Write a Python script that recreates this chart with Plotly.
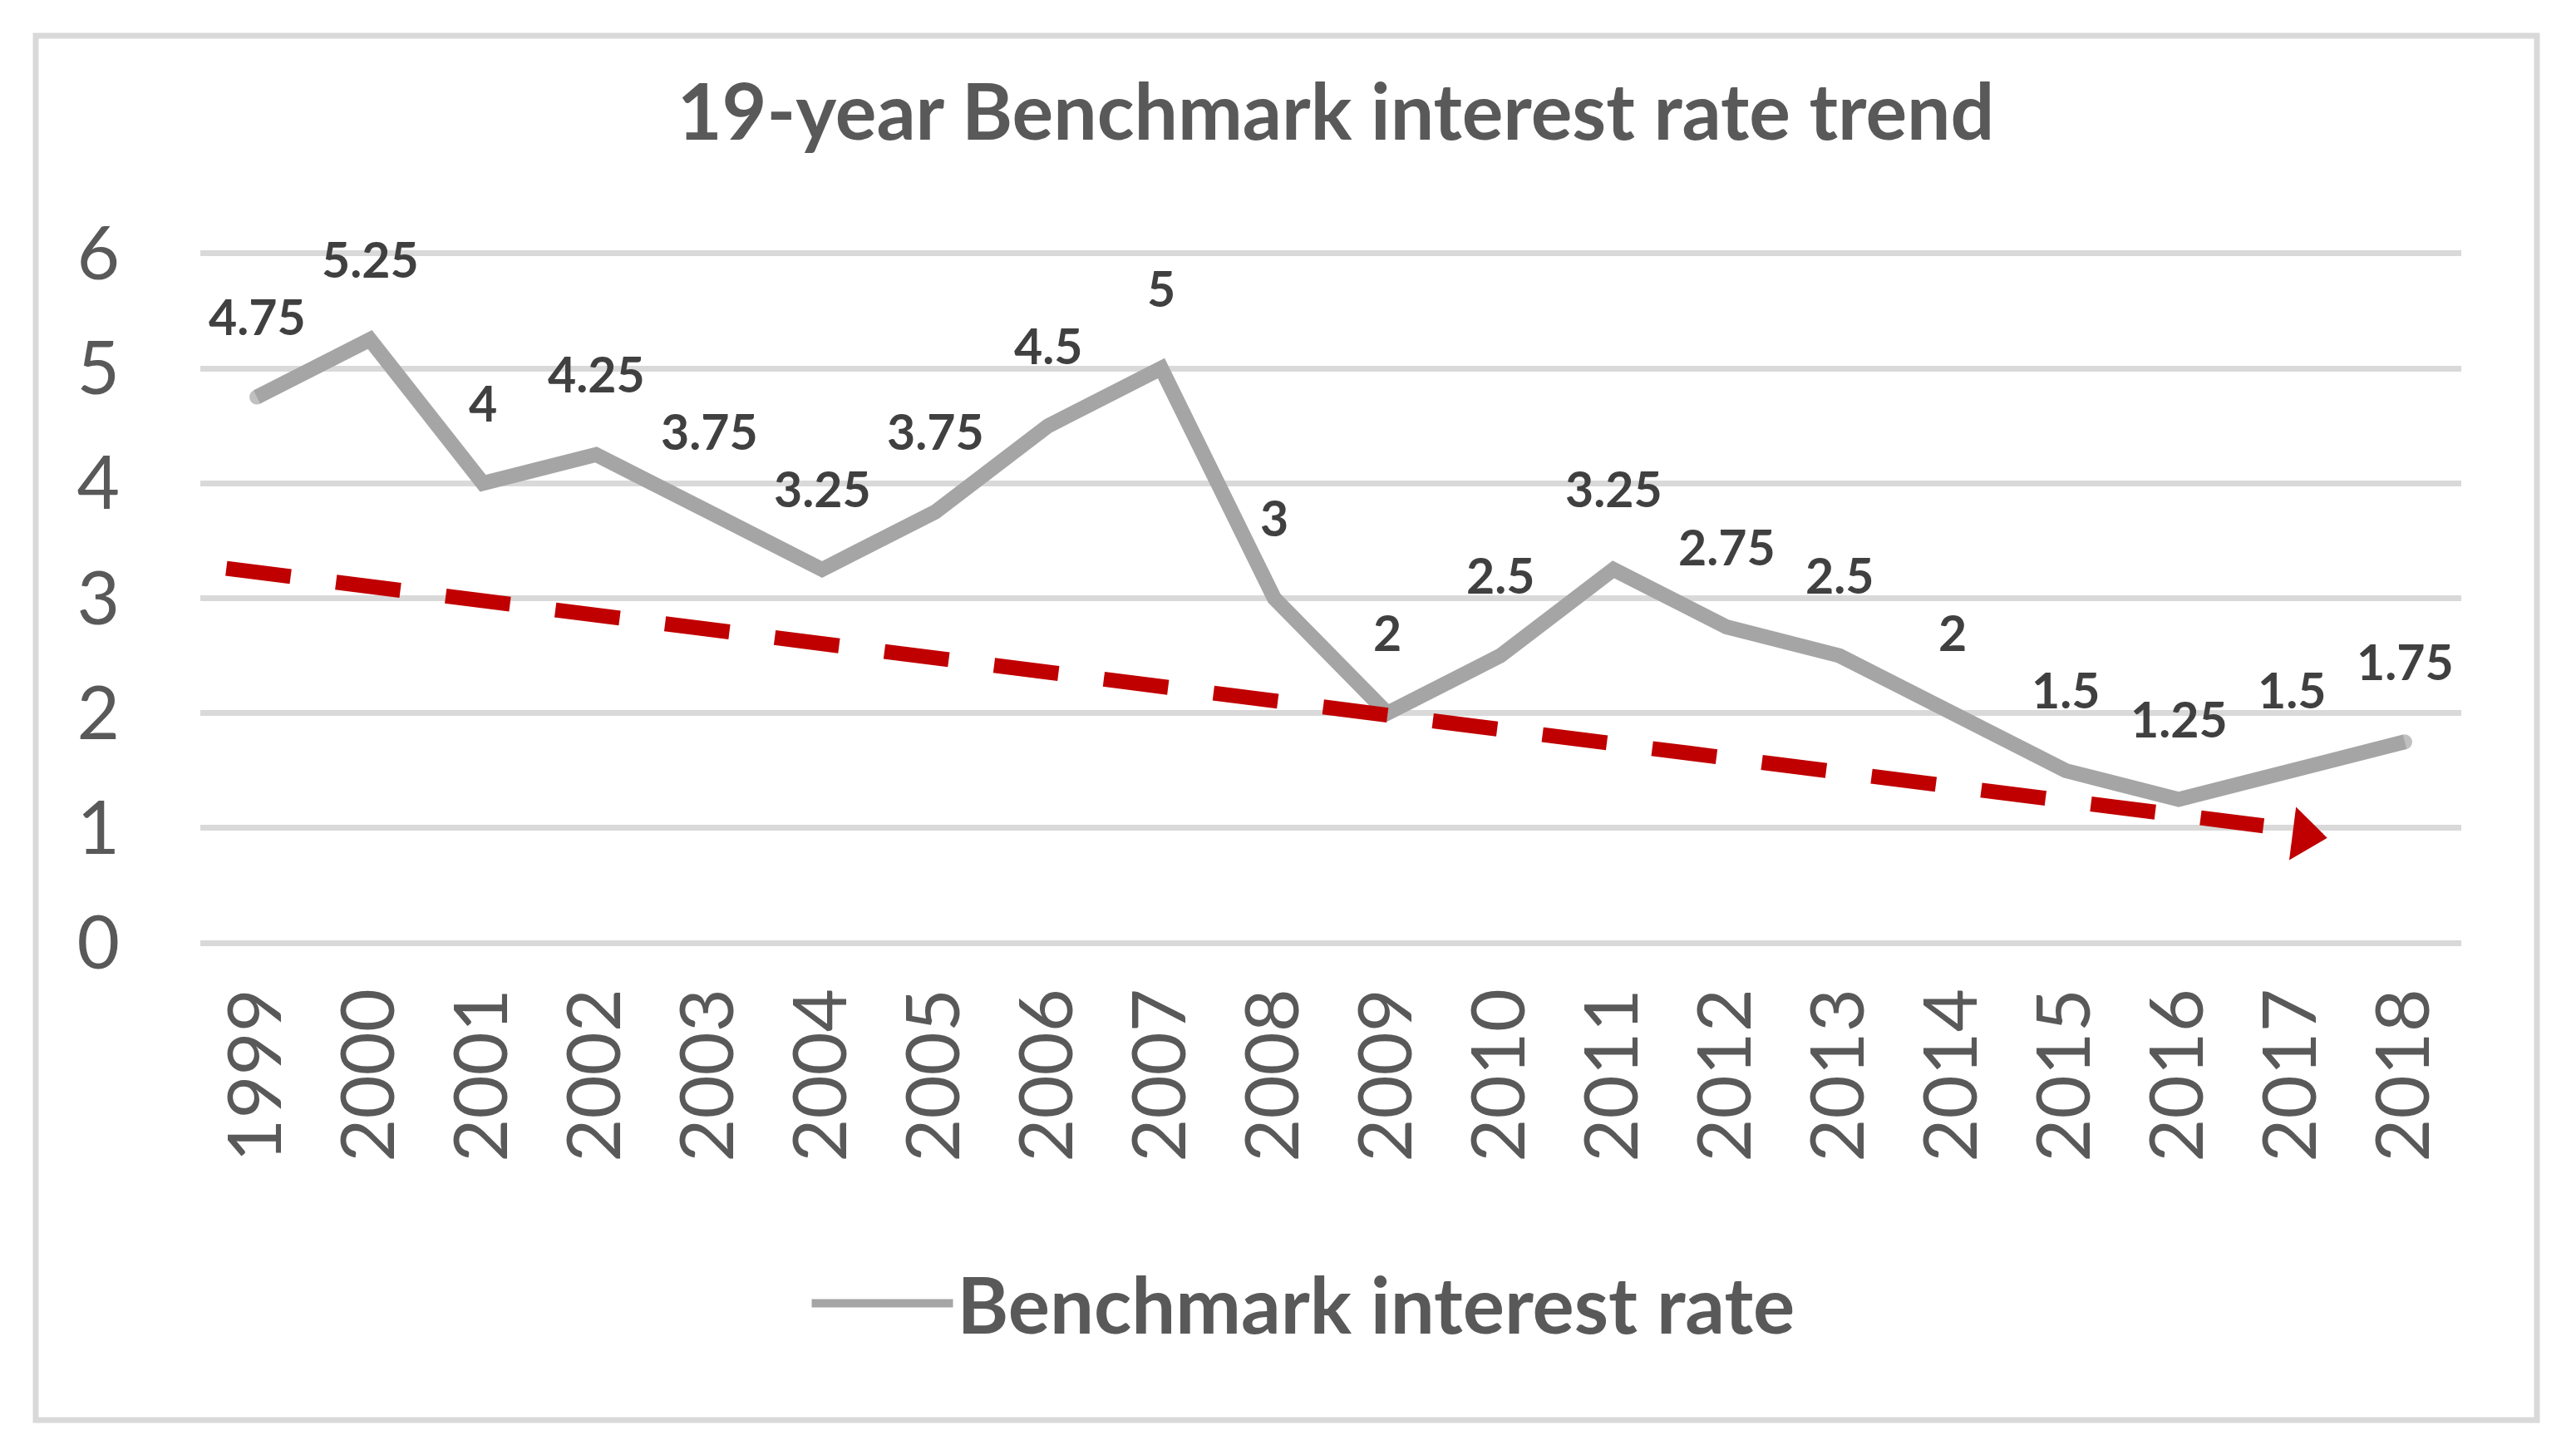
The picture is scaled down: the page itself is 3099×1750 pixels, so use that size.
import plotly.graph_objects as go

years = list(range(1999, 2019))
rates = [4.75, 5.25, 4, 4.25, 3.75, 3.25, 3.75, 4.5, 5, 3,
         2, 2.5, 3.25, 2.75, 2.5, 2, 1.5, 1.25, 1.5, 1.75]
rate_labels = ["4.75", "5.25", "4", "4.25", "3.75", "3.25", "3.75", "4.5", "5", "3",
               "2", "2.5", "3.25", "2.75", "2.5", "2", "1.5", "1.25", "1.5", "1.75"]

# hand drawn trend arrow (start/end of the dashed part, then the head)
trend_x = [1998.73, 2016.75]
trend_y = [3.26, 1.02]
head_x = [2017.11]
head_y = [0.94]

FONT = "Lato"
W, H = 3099, 1750
L, R, T, B = 241, 138, 302, 613

fig = go.Figure()

# round end caps like the original line
cap_sizes = [18 if i in (0, len(years) - 1) else 0 for i in range(len(years))]
fig.add_trace(go.Scatter(
    x=years, y=rates, mode="lines+markers", name="Benchmark interest rate",
    line=dict(color="#A5A5A5", width=18),
    marker=dict(size=cap_sizes, color="#A5A5A5", line=dict(width=0)),
))
fig.add_trace(go.Scatter(
    x=trend_x, y=trend_y, mode="lines", showlegend=False,
    line=dict(color="#C00000", width=18, dash="78px,55px"),
))
fig.add_trace(go.Scatter(
    x=head_x, y=head_y, mode="markers", showlegend=False,
    marker=dict(symbol="triangle-right", size=56, angle=7.3, color="#C00000",
                line=dict(width=0)),
))

# data labels above each point
for yr, v, t in zip(years, rates, rate_labels):
    fig.add_annotation(x=yr, y=v, text=t, showarrow=False, yshift=97,
                       yanchor="middle",
                       font=dict(family=FONT, size=59, color="#404040", weight="bold"))

pw = W - L - R
ph = H - T - B
# outer chart border
fig.add_shape(type="rect", xref="paper", yref="paper",
              x0=(43 - L) / pw, x1=(3052 - L) / pw,
              y0=(H - B - 1708) / ph, y1=(H - B - 43) / ph,
              line=dict(color="#D9D9D9", width=7), layer="below")

fig.update_layout(
    width=W, height=H,
    margin=dict(l=L, r=R, t=T, b=B, autoexpand=False),
    paper_bgcolor="white", plot_bgcolor="white",
    title=dict(text="<b>19-year Benchmark interest rate trend</b>",
               x=1607 / W, xanchor="center", y=1 - 135 / H, yanchor="middle",
               font=dict(family=FONT, size=93, color="#595959")),
    xaxis=dict(range=[1998.5, 2018.5], tickmode="array", tickvals=years,
               ticktext=[str(y) for y in years], tickangle=-90,
               showgrid=False, zeroline=False, showline=False,
               ticklabelstandoff=33,
               tickfont=dict(family=FONT, size=90, color="#595959")),
    # small padding so the 0 and 6 grid lines are drawn too
    yaxis=dict(range=[-0.02, 6.02], tickvals=[0, 1, 2, 3, 4, 5, 6],
               showgrid=True, gridcolor="#D9D9D9",
               gridwidth=7, zeroline=False, showline=False,
               ticklabelstandoff=96,
               tickfont=dict(family=FONT, size=89, color="#595959")),
    legend=dict(orientation="h", xref="container", x=1568 / W, xanchor="center",
                yref="container", y=1 - 1568 / H, yanchor="middle",
                itemwidth=170,
                font=dict(family=FONT, size=94, color="#595959", weight="bold")),
    showlegend=True,
)

fig.write_html("out.html", config={"displayModeBar": False},
               post_script="document.body.style.margin='0';")
